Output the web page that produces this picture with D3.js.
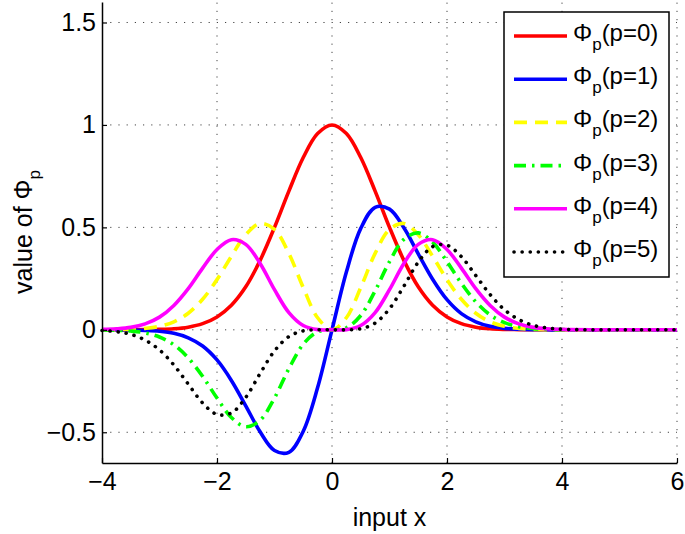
<!DOCTYPE html>
<html>
<head>
<meta charset="utf-8">
<script src="https://cdn.jsdelivr.net/npm/d3@7"></script>
<style>
  body { margin: 0; background: #fff; }
  text { font-family: "Liberation Sans", Arial, Helvetica, sans-serif; fill: #000; }
</style>
</head>
<body>
<svg id="chart" width="685" height="534"></svg>
<script>
const xValues = [-4, -3.75, -3.5, -3.25, -3, -2.75, -2.5, -2.25, -2, -1.75, -1.5, -1.25, -1, -0.75, -0.5, -0.25,
  0, 0.25, 0.5, 0.75, 1, 1.25, 1.5, 1.75, 2, 2.25, 2.5, 2.75, 3, 3.25, 3.5, 3.75, 4, 4.5, 5, 5.5, 6];

const phi0 = [0, 0, 0, 0.001, 0.002, 0.005, 0.013, 0.03, 0.063, 0.12, 0.21, 0.339, 0.5, 0.677, 0.841, 0.958,
  1, 0.958, 0.841, 0.677, 0.5, 0.339, 0.21, 0.12, 0.063, 0.03, 0.013, 0.005, 0.002, 0.001, 0, 0, 0, 0, 0, 0, 0];
const phi1 = [0, 0, -0.001, -0.003, -0.007, -0.017, -0.039, -0.079, -0.147, -0.247, -0.371, -0.498, -0.589, -0.598, -0.495, -0.282,
  0, 0.282, 0.495, 0.598, 0.589, 0.498, 0.371, 0.247, 0.147, 0.079, 0.039, 0.017, 0.007, 0.003, 0.001, 0, 0, 0, 0, 0, 0];
const phi2 = [0, 0.001, 0.002, 0.007, 0.017, 0.039, 0.081, 0.149, 0.245, 0.359, 0.464, 0.519, 0.49, 0.373, 0.206, 0.059,
  0, 0.059, 0.206, 0.373, 0.49, 0.519, 0.464, 0.359, 0.245, 0.149, 0.081, 0.039, 0.017, 0.007, 0.002, 0.001, 0, 0, 0, 0, 0];
const phi3 = [-0.001, -0.002, -0.006, -0.015, -0.035, -0.073, -0.137, -0.227, -0.333, -0.428, -0.473, -0.441, -0.333, -0.19, -0.07, -0.01,
  0, 0.01, 0.07, 0.19, 0.333, 0.441, 0.473, 0.428, 0.333, 0.227, 0.137, 0.073, 0.035, 0.015, 0.006, 0.002, 0.001, 0, 0, 0, 0];
const phi4 = [0.002, 0.005, 0.012, 0.029, 0.062, 0.119, 0.201, 0.301, 0.392, 0.44, 0.417, 0.324, 0.196, 0.084, 0.021, 0.001,
  0, 0.001, 0.021, 0.084, 0.196, 0.324, 0.417, 0.44, 0.392, 0.301, 0.201, 0.119, 0.062, 0.029, 0.012, 0.005, 0.002, 0, 0, 0, 0];
const phi5 = [-0.003, -0.009, -0.022, -0.05, -0.098, -0.172, -0.265, -0.357, -0.413, -0.406, -0.33, -0.213, -0.103, -0.033, -0.005, 0,
  0, 0, 0.005, 0.033, 0.103, 0.213, 0.33, 0.406, 0.413, 0.357, 0.265, 0.172, 0.098, 0.05, 0.022, 0.009, 0.003, 0, 0, 0, 0];

const seriesLabels = ["(p=0)", "(p=1)", "(p=2)", "(p=3)", "(p=4)", "(p=5)"];
const xTicks = [-4, -2, 0, 2, 4, 6];
const yTicks = [-0.5, 0, 0.5, 1, 1.5];

const styles = [
  { color: "#ff0000", dash: null, cap: "butt" },
  { color: "#0000ff", dash: null, cap: "butt" },
  { color: "#ffff00", dash: "13,8", cap: "butt" },
  { color: "#00ff00", dash: "12,6,2.5,6", cap: "butt" },
  { color: "#ff00ff", dash: null, cap: "butt" },
  { color: "#000000", dash: "0.1,8", cap: "round" },
];

const allSeries = [phi0, phi1, phi2, phi3, phi4, phi5];

const plotLeft = 102, plotRight = 677, plotTop = 2, plotBottom = 463;
const svg = d3.select("#chart");

const x = d3.scaleLinear().domain([-4, 6]).range([plotLeft, plotRight]);
const y = d3.scaleLinear().domain([-0.65, 1.6]).range([plotBottom, plotTop]);

// dotted grid
const grid = svg.append("g").attr("stroke", "#444").attr("stroke-width", 1).attr("stroke-dasharray", "1.2,7");
grid.selectAll(".gx").data(xTicks.filter((d) => d > -4)).enter().append("line")
  .attr("x1", (d) => x(d)).attr("x2", (d) => x(d))
  .attr("y1", plotBottom).attr("y2", plotTop);
grid.selectAll(".gy").data(yTicks).enter().append("line")
  .attr("x1", plotLeft).attr("x2", plotRight)
  .attr("y1", (d) => y(d)).attr("y2", (d) => y(d));

// curves
const line = d3.line()
  .x((d) => x(d[0]))
  .y((d) => y(d[1]))
  .curve(d3.curveCatmullRom.alpha(0.5));

allSeries.forEach((vals, i) => {
  svg.append("path")
    .datum(xValues.map((xv, j) => [xv, vals[j]]))
    .attr("d", line)
    .attr("fill", "none")
    .attr("stroke", styles[i].color)
    .attr("stroke-width", 3.6)
    .attr("stroke-linejoin", "round")
    .attr("stroke-linecap", styles[i].cap)
    .attr("stroke-dasharray", styles[i].dash);
});

// axes
const xAxis = svg.append("g")
  .attr("transform", "translate(0," + plotBottom + ")")
  .call(d3.axisBottom(x).tickValues(xTicks).tickSizeInner(-5).tickSizeOuter(0).tickPadding(9));
const yAxis = svg.append("g")
  .attr("transform", "translate(" + plotLeft + ",0)")
  .call(d3.axisLeft(y).tickValues(yTicks).tickFormat(d3.format("")).tickSizeInner(-5).tickSizeOuter(0).tickPadding(6));

[xAxis, yAxis].forEach((g) => {
  g.select(".domain").attr("stroke", "#000").attr("stroke-width", 1.5);
  g.selectAll(".tick line").attr("stroke", "#000").attr("stroke-width", 1.2);
  g.selectAll(".tick text").style("font-size", "25px").style("font-family", "Liberation Sans, Arial, sans-serif");
});

// axis labels
svg.append("text")
  .attr("x", (plotLeft + plotRight) / 2)
  .attr("y", 526)
  .attr("text-anchor", "middle")
  .style("font-size", "25px")
  .text("input x");

const ylab = svg.append("text")
  .attr("transform", "translate(32," + 232 + ") rotate(-90)")
  .attr("text-anchor", "middle")
  .style("font-size", "25px");
ylab.append("tspan").text("value of Φ");
ylab.append("tspan").attr("dy", 8).style("font-size", "17px").text("p");

// legend
const legend = svg.append("g");
legend.append("rect")
  .attr("x", 504).attr("y", 12)
  .attr("width", 165).attr("height", 265)
  .attr("fill", "#fff").attr("stroke", "#000").attr("stroke-width", 1.5);

const rowY = (i) => 36 + i * 43.2;

seriesLabels.forEach((lab, i) => {
  legend.append("line")
    .attr("x1", 514).attr("x2", 567)
    .attr("y1", rowY(i)).attr("y2", rowY(i))
    .attr("stroke", styles[i].color)
    .attr("stroke-width", 3.6)
    .attr("stroke-linecap", styles[i].cap)
    .attr("stroke-dasharray", styles[i].dash);
  const t = legend.append("text")
    .attr("x", 573)
    .attr("y", rowY(i) + 5)
    .style("font-size", "24px");
  t.append("tspan").text("Φ");
  t.append("tspan").attr("dy", 9).style("font-size", "17px").text("p");
  t.append("tspan").attr("dy", -9).text(lab);
});
</script>
</body>
</html>
